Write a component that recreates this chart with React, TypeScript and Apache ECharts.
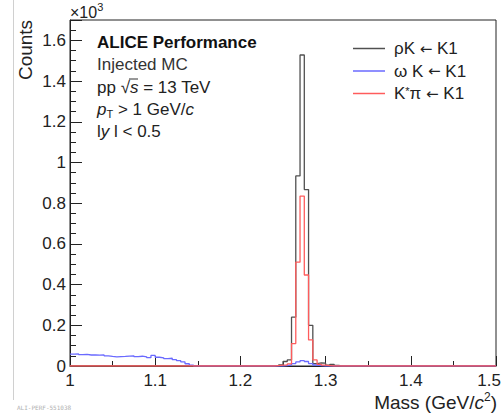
import React, { useEffect, useRef } from 'react';
import * as echarts from 'echarts';

const FONT = '"Liberation Sans", Arial, Helvetica, sans-serif';

const BIN_WIDTH = 0.005;
const X_MIN = 1.0;
const X_MAX = 1.5;
const X_INTERVAL = 0.1;
const Y_MIN = 0;
const Y_MAX = 1.7;
const Y_INTERVAL = 0.2;

const seriesNames = ['ρK ← K1', 'ωK ← K1', 'K*π ← K1'];
const legendRich = ['{a|ρK }{b|←}{a| K1}', '{a|ω K }{b|←}{a| K1}', '{a|K}{s|*}{a|π }{b|←}{a| K1}'];
const seriesColors = ['#505050', '#6a6aff', '#ff5c5c'];

// Counts in units of 10^3, per 0.005 GeV/c^2 bin (left edges given by *Start)
const omegaLowStart = 1.0;
const omegaLow = [
  0.058, 0.060, 0.056, 0.057, 0.054, 0.055, 0.053, 0.054, 0.050, 0.047,
  0.045, 0.046, 0.047, 0.049, 0.050, 0.046, 0.048, 0.045, 0.041, 0.052,
  0.043, 0.040, 0.036, 0.038, 0.031, 0.026, 0.020, 0.011, 0.004,
];

const peakStart = 1.24;
const rhoPeak = [
  0.002, 0.006, 0.022, 0.030, 0.240, 0.934, 1.528, 0.867, 0.200, 0.012,
  0.015, 0.014, 0.004, 0.008, 0.003,
];
const omegaPeak = [
  0.000, 0.000, 0.002, 0.005, 0.012, 0.020, 0.026, 0.022, 0.012, 0.005,
  0.002, 0.000, 0.000, 0.000, 0.000,
];
const kstarPeak = [
  0.002, 0.004, 0.006, 0.010, 0.110, 0.510, 0.835, 0.447, 0.128, 0.030,
  0.008, 0.004, 0.002, 0.000, 0.000,
];

const textLines = ['ALICE Performance', 'Injected MC'];

function buildHist(parts: { start: number; values: number[] }[]) {
  const n = Math.round((X_MAX - X_MIN) / BIN_WIDTH);
  const bins: number[] = new Array(n).fill(0);
  parts.forEach((p) => {
    const i0 = Math.round((p.start - X_MIN) / BIN_WIDTH);
    p.values.forEach((v, k) => {
      if (i0 + k < n) bins[i0 + k] = v;
    });
  });
  const pts: number[][] = bins.map((v, i) => [+(X_MIN + i * BIN_WIDTH).toFixed(4), v]);
  pts.push([X_MAX, bins[n - 1]]);
  return pts;
}

const fmt = (v: number) => String(+v.toFixed(2));

export default function App() {
  const ref = useRef<HTMLDivElement>(null);
  useEffect(() => {
    if (!ref.current) return;
    const chart = echarts.init(ref.current, null, { renderer: 'svg' });
    const hists = [
      buildHist([{ start: peakStart, values: rhoPeak }]),
      buildHist([
        { start: omegaLowStart, values: omegaLow },
        { start: peakStart, values: omegaPeak },
      ]),
      buildHist([{ start: peakStart, values: kstarPeak }]),
    ];
    const base = { fontFamily: FONT, fontSize: 17, fill: '#222' };
    const it = { fontFamily: FONT, fontSize: 17, fontStyle: 'italic', color: '#222' };
    const nm = { fontFamily: FONT, fontSize: 17, color: '#222' };
    chart.setOption({
      animation: false,
      backgroundColor: '#fff',
      grid: {
        left: 70,
        top: 20,
        right: 6,
        bottom: 47,
        show: true,
        borderColor: '#222',
        borderWidth: 1,
        backgroundColor: 'transparent',
      },
      legend: {
        orient: 'vertical',
        left: 348,
        top: 35,
        itemWidth: 32,
        itemHeight: 1.5,
        itemGap: 5.5,
        icon: 'rect',
        data: seriesNames,
        formatter: (name: string) => legendRich[seriesNames.indexOf(name)],
        textStyle: {
          fontFamily: FONT, fontSize: 17, color: '#222', lineHeight: 16, padding: [0, 0, 0, 4],
          rich: {
            a: { fontFamily: FONT, fontSize: 17, color: '#222', lineHeight: 16 },
            b: { fontFamily: '"DejaVu Sans", sans-serif', fontSize: 15, color: '#222', lineHeight: 16 },
            s: { fontFamily: FONT, fontSize: 11, color: '#222', lineHeight: 16, padding: [0, 0, 6, 0] },
          },
        },
      },
      xAxis: {
        type: 'value',
        min: X_MIN,
        max: X_MAX,
        interval: X_INTERVAL,
        axisLine: { show: true, lineStyle: { color: '#222', width: 1 } },
        axisTick: { show: true, inside: true, length: 10, lineStyle: { color: '#222' } },
        minorTick: { show: true, splitNumber: 2, length: 5, lineStyle: { color: '#222' } },
        splitLine: { show: false },
        axisLabel: {
          margin: 6,
          fontFamily: FONT,
          fontSize: 17,
          color: '#222',
          showMaxLabel: false,
          formatter: (v: number) => fmt(v),
        },
      },
      yAxis: {
        type: 'value',
        min: Y_MIN,
        max: Y_MAX,
        interval: Y_INTERVAL,
        axisLine: { show: true, lineStyle: { color: '#222', width: 1 } },
        axisTick: { show: true, inside: true, length: 12, lineStyle: { color: '#222' } },
        minorTick: { show: true, splitNumber: 4, length: 6, lineStyle: { color: '#222' } },
        splitLine: { show: false },
        axisLabel: {
          margin: 4,
          fontFamily: FONT,
          fontSize: 17,
          color: '#222',
          showMaxLabel: false,
          formatter: (v: number) => fmt(v),
        },
      },
      series: hists.map((d, i) => ({
        name: seriesNames[i],
        type: 'line',
        step: 'end',
        data: d,
        symbol: 'none',
        color: seriesColors[i],
        lineStyle: { color: seriesColors[i], width: 1.3 },
        z: 2 + i,
      })),
      graphic: [
        { type: 'line', shape: { x1: 13.5, y1: 0, x2: 13.5, y2: 400 }, style: { stroke: '#d0d0d0', lineWidth: 1 } },
        {
          type: 'text', x: 501, y: 372,
          style: { text: fmt(X_MAX), ...base, align: 'right', verticalAlign: 'top' },
        },
        {
          type: 'text', x: 70, y: 12,
          style: {
            text: '×10{sup|3}', ...base, fontSize: 16, verticalAlign: 'middle',
            rich: { sup: { fontFamily: FONT, fontSize: 11, color: '#222', padding: [0, 0, 10, 0] } },
          },
        },
        {
          type: 'text', x: 25, y: 50, rotation: Math.PI / 2,
          style: { text: 'Counts', ...base, fontSize: 19, align: 'center', verticalAlign: 'middle' },
        },
        {
          type: 'text', x: 497, y: 402,
          style: {
            text: 'Mass (GeV/{i|c}{sup|2})', ...base, fontSize: 19, align: 'right', verticalAlign: 'middle',
            rich: {
              i: { fontFamily: FONT, fontSize: 19, fontStyle: 'italic', color: '#222' },
              sup: { fontFamily: FONT, fontSize: 12, color: '#222', padding: [0, 0, 10, 0] },
            },
          },
        },
        {
          type: 'text', x: 97, y: 42,
          style: { text: textLines[0], ...base, fontWeight: 'bold', fill: '#111', verticalAlign: 'middle' },
        },
        {
          type: 'text', x: 97, y: 64,
          style: { text: textLines[1], ...base, fill: '#333', verticalAlign: 'middle' },
        },
        {
          type: 'text', x: 97, y: 87,
          style: {
            text: '{n|pp √}{i|s}{n| = 13 TeV}', ...base, verticalAlign: 'middle',
            rich: { n: nm, i: it },
          },
        },
        {
          type: 'line', shape: { x1: 129, y1: 79, x2: 138, y2: 79 }, style: { stroke: '#333', lineWidth: 1 },
        },
        {
          type: 'text', x: 97, y: 109,
          style: {
            text: '{i|p}{sub|T}{n| > 1 GeV/}{i|c}', ...base, verticalAlign: 'middle',
            rich: {
              n: nm, i: it,
              sub: { fontFamily: FONT, fontSize: 11, color: '#222', padding: [10, 0, 0, 0] },
            },
          },
        },
        {
          type: 'text', x: 97, y: 131,
          style: {
            text: '{n|l}{i|y}{n| l < 0.5}', ...base, verticalAlign: 'middle',
            rich: { n: nm, i: it },
          },
        },
        {
          type: 'text', x: 17, y: 407,
          style: { text: 'ALI-PERF-551038', fontFamily: '"DejaVu Sans Mono", monospace', fontSize: 6, fill: '#b0b0b0', verticalAlign: 'middle' },
        },
      ],
    });
    return () => chart.dispose();
  }, []);
  return <div ref={ref} style={{ position: 'fixed', left: 0, top: 0, width: 502, height: 413 }} />;
}
